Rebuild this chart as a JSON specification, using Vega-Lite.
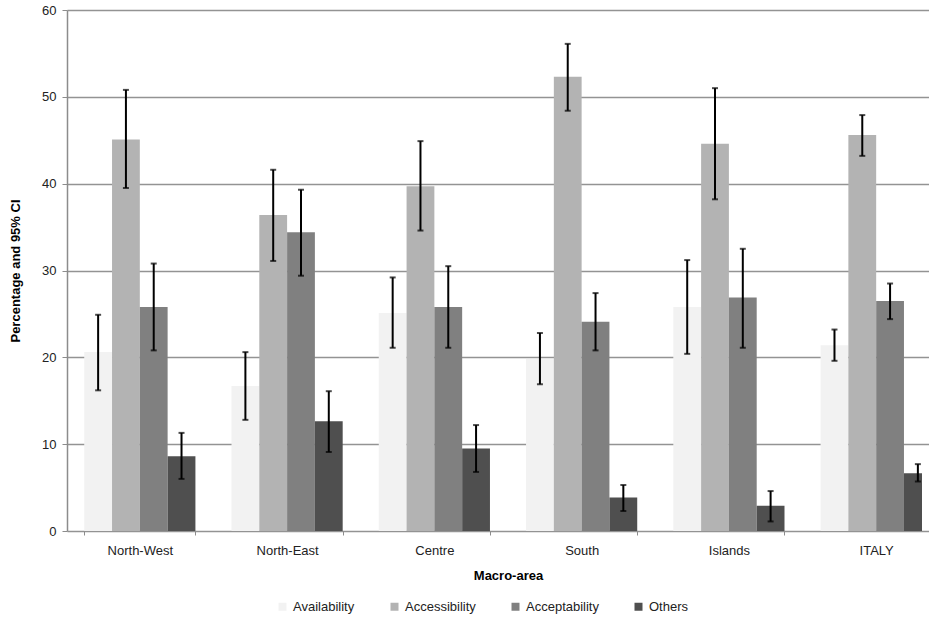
{
  "$schema": "https://vega.github.io/schema/vega-lite/v6.json",
  "width": 855,
  "height": 521,
  "autosize": {"type": "none"},
  "padding": {"left": 67, "top": 10, "right": 7, "bottom": 89},
  "background": "white",
  "config": {
    "font": "Liberation Sans",
    "view": {"stroke": null},
    "axis": {"labelFont": "Liberation Sans", "titleFont": "Liberation Sans"}
  },
  "data": {
    "values": [
      {"region": "North-West", "category": "Availability", "value": 20.6, "lo": 16.2, "hi": 24.9},
      {"region": "North-West", "category": "Accessibility", "value": 45.1, "lo": 39.5, "hi": 50.8},
      {"region": "North-West", "category": "Acceptability", "value": 25.8, "lo": 20.8, "hi": 30.8},
      {"region": "North-West", "category": "Others", "value": 8.6, "lo": 6.0, "hi": 11.3},
      {"region": "North-East", "category": "Availability", "value": 16.7, "lo": 12.8, "hi": 20.6},
      {"region": "North-East", "category": "Accessibility", "value": 36.4, "lo": 31.1, "hi": 41.6},
      {"region": "North-East", "category": "Acceptability", "value": 34.4, "lo": 29.4, "hi": 39.3},
      {"region": "North-East", "category": "Others", "value": 12.65, "lo": 9.1, "hi": 16.1},
      {"region": "Centre", "category": "Availability", "value": 25.1, "lo": 21.1, "hi": 29.2},
      {"region": "Centre", "category": "Accessibility", "value": 39.7, "lo": 34.6, "hi": 44.9},
      {"region": "Centre", "category": "Acceptability", "value": 25.8, "lo": 21.1, "hi": 30.5},
      {"region": "Centre", "category": "Others", "value": 9.5, "lo": 6.8, "hi": 12.2},
      {"region": "South", "category": "Availability", "value": 19.8, "lo": 16.9, "hi": 22.8},
      {"region": "South", "category": "Accessibility", "value": 52.3, "lo": 48.4, "hi": 56.1},
      {"region": "South", "category": "Acceptability", "value": 24.1, "lo": 20.8, "hi": 27.4},
      {"region": "South", "category": "Others", "value": 3.85, "lo": 2.3, "hi": 5.3},
      {"region": "Islands", "category": "Availability", "value": 25.8, "lo": 20.4, "hi": 31.2},
      {"region": "Islands", "category": "Accessibility", "value": 44.6, "lo": 38.2, "hi": 51.0},
      {"region": "Islands", "category": "Acceptability", "value": 26.9, "lo": 21.1, "hi": 32.5},
      {"region": "Islands", "category": "Others", "value": 2.9, "lo": 1.1, "hi": 4.6},
      {"region": "ITALY", "category": "Availability", "value": 21.4, "lo": 19.6, "hi": 23.2},
      {"region": "ITALY", "category": "Accessibility", "value": 45.6, "lo": 43.2, "hi": 47.9},
      {"region": "ITALY", "category": "Acceptability", "value": 26.5, "lo": 24.4, "hi": 28.5},
      {"region": "ITALY", "category": "Others", "value": 6.65, "lo": 5.7, "hi": 7.7}
    ]
  },
  "encoding": {
    "x": {
      "field": "region",
      "type": "nominal",
      "sort": ["North-West", "North-East", "Centre", "South", "Islands", "ITALY"],
      "scale": {"paddingInner": 0.245, "paddingOuter": 0.117, "range": [0, 882]},
      "axis": {
        "title": "Macro-area",
        "titleFontSize": 13,
        "titleFontWeight": "bold",
        "titleColor": "#000",
        "titlePadding": 12,
        "labelAngle": 0,
        "labelFontSize": 13,
        "labelColor": "#222",
        "labelPadding": 9,
        "domain": false,
        "tickBand": "extent",
        "tickColor": "#8c8c8c",
        "tickSize": 4,
        "grid": false
      }
    },
    "xOffset": {
      "field": "category",
      "type": "nominal",
      "sort": ["Availability", "Accessibility", "Acceptability", "Others"],
      "scale": {"padding": 0}
    }
  },
  "layer": [
    {
      "mark": {"type": "bar", "clip": true},
      "encoding": {
        "y": {
          "field": "value",
          "type": "quantitative",
          "scale": {"domain": [0, 60], "nice": false},
          "axis": {
            "title": "Percentage and  95% CI",
            "titleFontSize": 13,
            "titleFontWeight": "bold",
            "titleColor": "#000",
            "titlePadding": 19,
            "values": [0, 10, 20, 30, 40, 50, 60],
            "labelFontSize": 13,
            "labelColor": "#222",
            "labelPadding": 6,
            "domainColor": "#8c8c8c",
            "domainWidth": 1.5,
            "tickColor": "#8c8c8c",
            "tickSize": 5,
            "gridColor": "#939393",
            "gridWidth": 1.5
          }
        },
        "color": {
          "field": "category",
          "type": "nominal",
          "sort": ["Availability", "Accessibility", "Acceptability", "Others"],
          "scale": {
            "domain": ["Availability", "Accessibility", "Acceptability", "Others"],
            "range": ["#f2f2f2", "#b3b3b3", "#808080", "#4f4f4f"]
          },
          "legend": {
            "title": null,
            "orient": "none",
            "direction": "horizontal",
            "legendX": 209,
            "legendY": 590,
            "symbolType": "square",
            "symbolSize": 64,
            "symbolStrokeWidth": 0,
            "labelFontSize": 13,
            "labelColor": "#222",
            "labelOffset": 4,
            "columnPadding": 33
          }
        }
      }
    },
    {
      "mark": {"type": "rule", "color": "#000", "strokeWidth": 2, "clip": true},
      "encoding": {
        "y": {"field": "lo", "type": "quantitative"},
        "y2": {"field": "hi"}
      }
    },
    {
      "mark": {"type": "tick", "color": "#000", "thickness": 2, "size": 6, "clip": true},
      "encoding": {"y": {"field": "lo", "type": "quantitative"}}
    },
    {
      "mark": {"type": "tick", "color": "#000", "thickness": 2, "size": 6, "clip": true},
      "encoding": {"y": {"field": "hi", "type": "quantitative"}}
    }
  ]
}
